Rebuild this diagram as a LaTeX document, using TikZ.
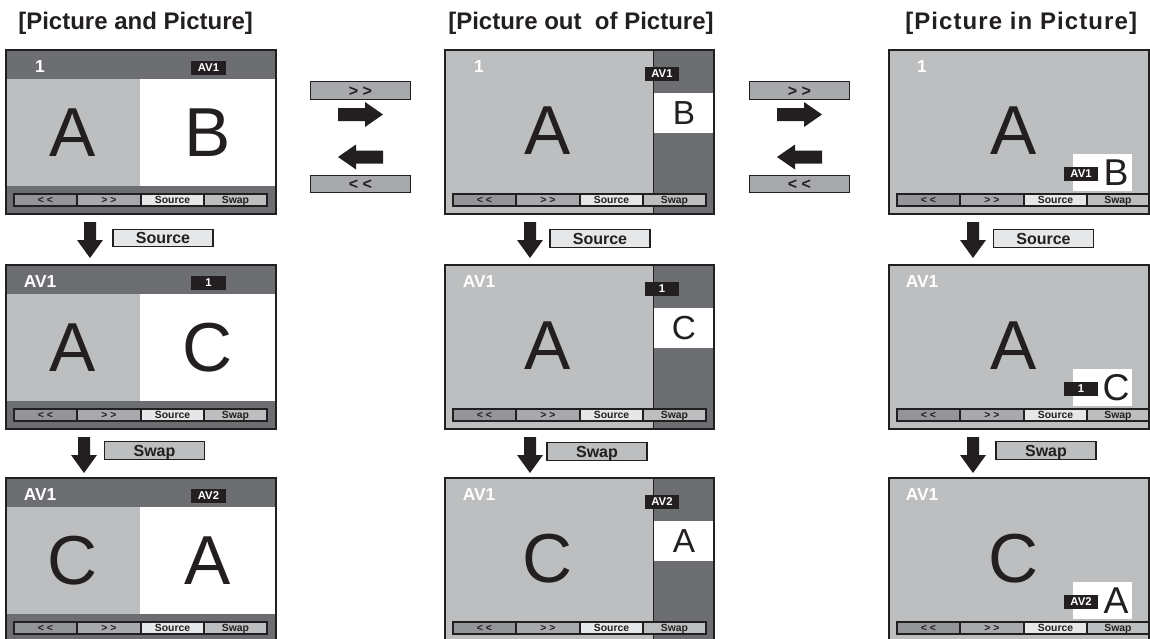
\documentclass[tikz,border=0pt]{standalone}
\usepackage{fontspec}
\setmainfont{Liberation Sans}
\usetikzlibrary{positioning,calc}
\definecolor{hdrgrey}{HTML}{6D6E71}
\definecolor{picgrey}{HTML}{BCBEC0}
\definecolor{btnA}{HTML}{939598}
\definecolor{btnB}{HTML}{A7A9AC}
\definecolor{btnC}{HTML}{E6E7E8}
\definecolor{btnD}{HTML}{BCBEC0}
\definecolor{ink}{HTML}{231F20}
\tikzset{
  frame/.style={draw=ink, line width=1.1pt},
  btn/.style={draw=ink, line width=0.8pt},
  btntext/.style={font=\bfseries\fontsize{7.8}{7.8}\selectfont, text=ink, inner sep=0pt, text height=5.6pt, text depth=0pt},
  hdrtext/.style={font=\bfseries\fontsize{13}{13}\selectfont, text=white, inner sep=0pt},
  tag/.style={fill=ink, text=white, font=\bfseries\fontsize{8.5}{8.5}\selectfont, inner sep=0pt, minimum width=26pt, minimum height=10.5pt},
  bigletter/.style={font=\fontsize{52}{52}\selectfont, text=ink, inner sep=0pt},
  sideletter/.style={font=\fontsize{25}{25}\selectfont, text=ink, inner sep=0pt},
  pipletter/.style={font=\fontsize{28}{28}\selectfont, text=ink, inner sep=0pt},
  title/.style={font=\bfseries\fontsize{18}{18}\selectfont, text=ink, anchor=base west, inner sep=0pt},
  keybox/.style={draw=ink, line width=0.8pt, font=\bfseries\fontsize{12}{12}\selectfont, text=ink, inner sep=0pt, minimum width=75pt, minimum height=13pt, text height=8.6pt, text depth=0pt},
  blockarrow/.style={fill=ink}
}
% button row at the foot of a screen: #1 prefix, #2 right end
\newcommand{\btnrow}[2]{%
  \filldraw[btn, fill=btnA] (8,144) rectangle (71,156);
  \filldraw[btn, fill=btnB] (71,144) rectangle (135,156);
  \filldraw[btn, fill=btnC] (135,144) rectangle (198,156);
  \filldraw[btn, fill=btnD] (198,144) rectangle (#2,156);
  \node[btntext] (#1-prev) at (39.5,150) {< <};
  \node[btntext] (#1-next) at (103,150) {> >};
  \node[btntext] (#1-src) at (166.5,150) {Source};
  \node[btntext] (#1-swp) at ({(198+#2)/2},149.5) {Swap};
}
% picture and picture
\newcommand{\papscreen}[5]{%
  \fill[hdrgrey] (0,0) rectangle (270,164);
  \fill[picgrey] (0,29) rectangle (134,136);
  \fill[white] (134,29) rectangle (270,136);
  \node[hdrtext] (#1-hdr) at (34,17) {#2};
  \node[tag] (#1-tag) at (202.5,17.5) {#3};
  \node[bigletter] (#1-main) at (67,83) {#4};
  \node[bigletter] (#1-sub) at (202,83) {#5};
  \btnrow{#1}{261}
  \draw[frame] (0,0) rectangle (270,164);
}
% picture out of picture
\newcommand{\popscreen}[5]{%
  \fill[picgrey] (0,0) rectangle (269,164);
  \fill[hdrgrey] (208,0) rectangle (269,164);
  \fill[white] (208,43) rectangle (269,83);
  \draw[ink, line width=0.5pt] (208,0) -- (208,164);
  \node[hdrtext] (#1-hdr) at (34,17) {#2};
  \node[tag] (#1-tag) at (217,24) {#3};
  \node[bigletter] (#1-main) at (103,81) {#4};
  \node[sideletter] (#1-sub) at (239,63) {#5};
  \btnrow{#1}{261}
  \draw[frame] (0,0) rectangle (269,164);
}
% picture in picture
\newcommand{\pipscreen}[5]{%
  \fill[picgrey] (0,0) rectangle (260,164);
  \fill[white] (184,104) rectangle (243,141);
  \node[hdrtext] (#1-hdr) at (33,17) {#2};
  \node[tag] (#1-tag) at (192,124) {#3};
  \node[bigletter] (#1-main) at (125,81) {#4};
  \node[pipletter] (#1-sub) at (227,123) {#5};
  \btnrow{#1}{260}
  \draw[frame] (0,0) rectangle (260,164);
}
\newcommand{\dnarrow}[2]{%
  \fill[blockarrow] (#1-6,#2) -- (#1+6,#2) -- (#1+6,#2+18) -- (#1+13,#2+18)
    -- (#1,#2+36) -- (#1-13,#2+18) -- (#1-6,#2+18) -- cycle;
}
\newcommand{\rtarrow}[2]{%
  \fill[blockarrow] (#1,#2-6.5) -- (#1+27,#2-6.5) -- (#1+27,#2-12.5) -- (#1+45,#2)
    -- (#1+27,#2+12.5) -- (#1+27,#2+6.5) -- (#1,#2+6.5) -- cycle;
}
\newcommand{\lfarrow}[2]{%
  \fill[blockarrow] (#1,#2) -- (#1+18,#2-12.5) -- (#1+18,#2-6.5) -- (#1+45,#2-6.5)
    -- (#1+45,#2+6.5) -- (#1+18,#2+6.5) -- (#1+18,#2+12.5) -- cycle;
}

\begin{document}
\begin{tikzpicture}[x=0.75pt, y=-0.75pt]
  \useasboundingbox (0,0) rectangle (1150,639);
  \clip (0,0) rectangle (1150,639);

  \node[title] (ttlpap) at (18,29) {[Picture and Picture]};
  \node[title] (ttlpop) at (448,30) {[Picture out\ \ of Picture]};
  \node[title] (ttlpip) at (905,30) {\addfontfeature{LetterSpace=4.5}[Picture in Picture]};

  % left column
  \begin{scope}[shift={(6,50)}]
    \papscreen{pap1}{1}{AV1}{A}{B}
  \end{scope}
  \begin{scope}[shift={(6,265)}]
    \papscreen{pap2}{AV1}{1}{A}{C}
  \end{scope}
  \begin{scope}[shift={(6,478)}]
    \papscreen{pap3}{AV1}{AV2}{C}{A}
  \end{scope}

  % middle column
  \begin{scope}[shift={(445,50)}]
    \popscreen{pop1}{1}{AV1}{A}{B}
  \end{scope}
  \begin{scope}[shift={(445,265)}]
    \popscreen{pop2}{AV1}{1}{A}{C}
  \end{scope}
  \begin{scope}[shift={(445,478)}]
    \popscreen{pop3}{AV1}{AV2}{C}{A}
  \end{scope}

  % right column
  \begin{scope}[shift={(889,50)}]
    \pipscreen{pip1}{1}{AV1}{A}{B}
  \end{scope}
  \begin{scope}[shift={(889,265)}]
    \pipscreen{pip2}{AV1}{1}{A}{C}
  \end{scope}
  \begin{scope}[shift={(889,478)}]
    \pipscreen{pip3}{AV1}{AV2}{C}{A}
  \end{scope}

  % mode keys between columns
  \node[keybox, fill=btnB] (fwd12) at (360.5,90.5) {> >};
  \rtarrow{338}{114.5}
  \lfarrow{338}{157}
  \node[keybox, fill=btnB] (back12) at (360.5,184) {< <};
  \node[keybox, fill=btnB] (fwd23) at (799.5,90.5) {> >};
  \rtarrow{777}{114.5}
  \lfarrow{777}{157}
  \node[keybox, fill=btnB] (back23) at (799.5,184) {< <};

  % keys between rows
  \dnarrow{90}{222}
  \node[keybox, fill=btnC] (srcpap) at (163,238) {Source};
  \dnarrow{84}{437}
  \node[keybox, fill=btnD] (swppap) at (154.5,450.5) {Swap};
  \dnarrow{530}{222}
  \node[keybox, fill=btnC] (srcpop) at (600,238.5) {Source};
  \dnarrow{530}{437}
  \node[keybox, fill=btnD] (swppop) at (597,451.5) {Swap};
  \dnarrow{973}{222}
  \node[keybox, fill=btnC] (srcpip) at (1043.5,238.5) {Source};
  \dnarrow{973}{437}
  \node[keybox, fill=btnD] (swppip) at (1046,450.5) {Swap};
\end{tikzpicture}
\end{document}
